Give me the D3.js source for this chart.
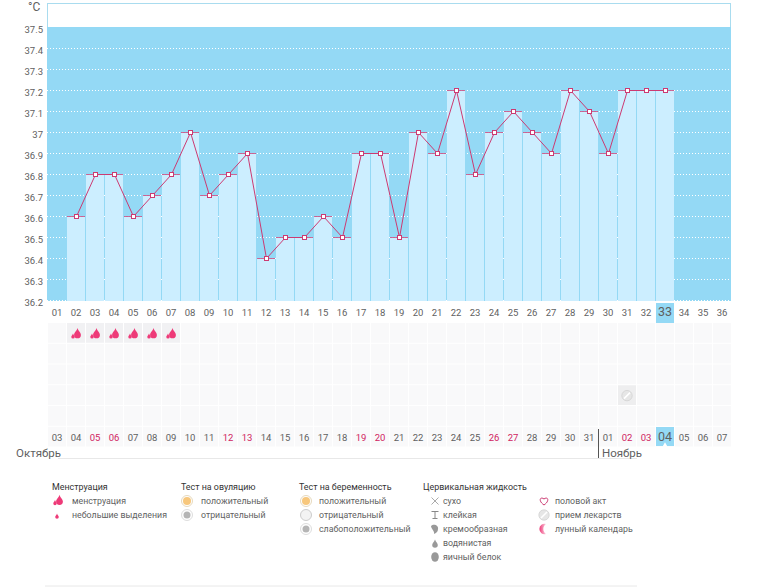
<!DOCTYPE html>
<html>
<head>
<meta charset="utf-8">
<script src="https://cdn.jsdelivr.net/npm/d3@7"></script>
<style>
html, body { margin: 0; padding: 0; background: #fff; }
svg { display: block; }
text { font-family: Roboto, sans-serif; font-size: 10px; fill: #5f5f5f; }
</style>
</head>
<body>
<svg id="chart" width="769" height="587"></svg>
<script>
(function(){
    'use strict';

    var cycleDays = ["01","02","03","04","05","06","07","08","09","10","11","12","13","14","15","16","17","18","19","20","21","22","23","24","25","26","27","28","29","30","31","32","33","34","35","36"];
    var dates = ["03","04","05","06","07","08","09","10","11","12","13","14","15","16","17","18","19","20","21","22","23","24","25","26","27","28","29","30","31","01","02","03","04","05","06","07"];
    var weekends = [2,3,9,10,16,17,23,24,30,31];
    var temps = [null,36.6,36.8,36.8,36.6,36.7,36.8,37,36.7,36.8,36.9,36.4,36.5,36.5,36.6,36.5,36.9,36.9,36.5,37,36.9,37.2,36.8,37,37.1,37,36.9,37.2,37.1,36.9,37.2,37.2,37.2,null,null,null];
    var tempTicks = [37.5,37.4,37.3,37.2,37.1,37,36.9,36.8,36.7,36.6,36.5,36.4,36.3,36.2];
    var mensesDays = ["02","03","04","05","06","07"];
    var pillDays = ["31"];
    var todayDay = "33";
    var rowIds = ["r1","r2","r3","r4","r5","r6"];

    var legendHeads = [
        {name:"Менструация", x:52},
        {name:"Тест на овуляцию", x:181},
        {name:"Тест на беременность", x:299},
        {name:"Цервикальная жидкость", x:423}
    ];
    var legendItems = [
        {name:"менструация", icon:"menses", ix:57, tx:72, row:0},
        {name:"небольшие выделения", icon:"spot", ix:57, tx:72, row:1},
        {name:"положительный", icon:"ovuPos", ix:187, tx:201, row:0},
        {name:"отрицательный", icon:"ovuNeg", ix:187, tx:201, row:1},
        {name:"положительный", icon:"pregPos", ix:306, tx:319, row:0},
        {name:"отрицательный", icon:"pregNeg", ix:306, tx:319, row:1},
        {name:"слабоположительный", icon:"pregWeak", ix:306, tx:319, row:2},
        {name:"сухо", icon:"dry", ix:435, tx:443, row:0},
        {name:"клейкая", icon:"sticky", ix:435, tx:443, row:1},
        {name:"кремообразная", icon:"cream", ix:435, tx:443, row:2},
        {name:"водянистая", icon:"water", ix:435, tx:443, row:3},
        {name:"яичный белок", icon:"egg", ix:435, tx:443, row:4},
        {name:"половой акт", icon:"heart", ix:544, tx:555, row:0},
        {name:"прием лекарств", icon:"pill", ix:544, tx:555, row:1},
        {name:"лунный календарь", icon:"moon", ix:544, tx:555, row:2}
    ];

    var blue = "#94d9f5", barColor = "#cceeff", pink = "#cc3a72", red = "#d0245f";
    var svg = d3.select("#chart");

    var moonFill = svg.append("defs").append("linearGradient").attr("id","moonFill");
    moonFill.append("stop").attr("offset","0%").attr("stop-color","#ee3a78");
    moonFill.append("stop").attr("offset","100%").attr("stop-color","#fbd3e1");

    var x = d3.scaleBand().domain(cycleDays).range([48, 732]);
    var y = d3.scaleLinear().domain([36.2, 37.5]).range([300.5, 27.5]);
    var rowY = d3.scaleBand().domain(rowIds).range([323, 447.5]);

    // y position snapped to the pixel row, so 1px strokes stay sharp
    function yPx(v){ return Math.floor(y(v))+0.5; }

    // top box and blue area
    svg.append("rect").attr("x",47.5).attr("y",3.5).attr("width",683).attr("height",24)
        .attr("fill","#fff").attr("stroke","#a9dcef");
    svg.append("rect").attr("x",47).attr("y",27).attr("width",684).attr("height",274).attr("fill",blue);

    svg.append("g").selectAll("line").data(tempTicks.slice(1)).join("line")
        .attr("x1",47).attr("x2",731)
        .attr("y1",yPx)
        .attr("y2",yPx)
        .attr("stroke","#fff").attr("stroke-dasharray","1,2");

    // bars
    var days = cycleDays.map(function(d,i){ return {day:d, t:temps[i]}; });
    var known = days.filter(function(d){ return d.t !== null; });
    svg.append("g").selectAll("rect").data(known).join("rect")
        .attr("x",function(d){ return x(d.day); })
        .attr("y",function(d){ return yPx(d.t); })
        .attr("width",x.bandwidth()-1)
        .attr("height",function(d){ return 301-yPx(d.t); })
        .attr("fill",barColor);

    // bar tops
    svg.append("g").selectAll("line").data(known).join("line")
        .attr("x1",function(d){ return x(d.day); })
        .attr("x2",function(d){ return x(d.day)+x.bandwidth()-1; })
        .attr("y1",function(d){ return yPx(d.t); })
        .attr("y2",function(d){ return yPx(d.t); })
        .attr("stroke",pink).attr("stroke-opacity",0.75);

    // temperature line
    var line = d3.line()
        .x(function(d){ return x(d.day)+x.bandwidth()/2; })
        .y(function(d){ return yPx(d.t); });
    svg.append("path").datum(known).attr("d",line)
        .attr("fill","none").attr("stroke",pink).attr("stroke-width",1);
    svg.append("g").selectAll("rect").data(known).join("rect")
        .attr("x",function(d){ return x(d.day)+x.bandwidth()/2-2; })
        .attr("y",function(d){ return yPx(d.t)-2; })
        .attr("width",4).attr("height",4)
        .attr("fill","#fff").attr("stroke",pink);

    // y axis
    var yAxis = d3.axisLeft(y).tickValues(tempTicks).tickSize(0).tickPadding(0)
        .tickFormat(function(d){ return String(d); });
    var yg = svg.append("g").attr("transform","translate(43,2)").call(yAxis);
    yg.select(".domain").remove();
    yg.selectAll("text").style("font-family",null).style("font-size","9.5px").attr("fill",null);
    svg.append("text").attr("x",28).attr("y",11).style("font-size","12px").text("°C");

    // cycle day labels
    svg.append("rect").attr("x",x(todayDay)).attr("y",303).attr("width",x.bandwidth()-1).attr("height",20).attr("fill",blue);
    svg.append("g").selectAll("text").data(cycleDays).join("text")
        .attr("x",function(d){ return x(d)+x.bandwidth()/2-0.5; })
        .attr("y",316)
        .attr("text-anchor","middle")
        .style("font-size",function(d){ return d===todayDay ? "12.5px" : "9.5px"; })
        .text(function(d){ return d; });

    // icon grid
    var grid = [];
    rowIds.forEach(function(r){ cycleDays.forEach(function(d){ grid.push({row:r, day:d}); }); });
    svg.append("g").selectAll("rect").data(grid).join("rect")
        .attr("x",function(d){ return x(d.day); })
        .attr("y",function(d){ return rowY(d.row); })
        .attr("width",x.bandwidth()-1)
        .attr("height",rowY.bandwidth()-1)
        .attr("fill",function(d){
            if (d.row==="r1" && mensesDays.indexOf(d.day)>=0) return "#f1f1f3";
            if (d.row==="r4" && pillDays.indexOf(d.day)>=0) return "#eeeeef";
            return "#f9f9fa";
        });

    function cx(d){ return x(d)+x.bandwidth()/2-0.5; }
    function rowC(r){ return rowY(r)+rowY.bandwidth()/2; }

    // drop shape, s is half width
    function drop(g,px,py,s,fill){
        g.append("path")
            .attr("d","M"+px+","+(py-s*2)+"C"+(px+s*0.3)+","+(py-s)+" "+(px+s)+","+(py-s*0.7)+" "+(px+s)+","+py
                +"A"+s+","+s+" 0 1 1 "+(px-s)+","+py
                +"C"+(px-s)+","+(py-s*0.7)+" "+(px-s*0.3)+","+(py-s)+" "+px+","+(py-s*2)+"Z")
            .attr("fill",fill);
    }
    function menses(g,px,py){
        drop(g,px+1.5,py+1.5,3.4,"#ee3a78");
        drop(g,px-3,py+3.5,1.7,"#ee3a78");
    }
    function pill(g,px,py){
        g.append("circle").attr("cx",px).attr("cy",py).attr("r",5.2).attr("fill","#e6e6e6").attr("stroke","#cfcfcf").attr("stroke-width",0.7);
        g.append("line").attr("x1",px-3).attr("y1",py+3).attr("x2",px+3).attr("y2",py-3).attr("stroke","#fff").attr("stroke-width",1.6);
    }

    var marks = svg.append("g");
    mensesDays.forEach(function(d){ menses(marks,cx(d),rowC("r1")); });
    pillDays.forEach(function(d){ pill(marks,cx(d),rowC("r4")); });

    // calendar dates
    svg.append("rect").attr("x",x(todayDay)).attr("y",427).attr("width",x.bandwidth()-1).attr("height",19).attr("fill",blue);
    svg.append("path").attr("d",d3.symbol(d3.symbolTriangle,10)()).attr("transform","translate("+cx(todayDay)+",445)").attr("fill","#fff");
    svg.append("g").selectAll("text").data(dates).join("text")
        .attr("x",function(d,i){ return cx(cycleDays[i]); })
        .attr("y",function(d,i){ return cycleDays[i]===todayDay ? 440.5 : 441; })
        .attr("text-anchor","middle")
        .style("font-size",function(d,i){ return cycleDays[i]===todayDay ? "12.5px" : "9.5px"; })
        .style("fill",function(d,i){ return weekends.indexOf(i)>=0 ? red : "#5f5f5f"; })
        .text(function(d){ return d; });

    // month labels
    svg.append("line").attr("x1",58).attr("x2",637).attr("y1",458.5).attr("y2",458.5).attr("stroke","#e8e8e8");
    svg.append("line").attr("x1",598.5).attr("x2",598.5).attr("y1",429).attr("y2",458).attr("stroke","#555");
    svg.append("text").attr("x",16).attr("y",457).style("font-size","11.5px").text("Октябрь");
    svg.append("text").attr("x",602).attr("y",457).style("font-size","11.5px").text("Ноябрь");

    // legend
    var legendY = d3.scaleLinear().domain([0,4]).range([501,557]);
    svg.append("g").selectAll("text").data(legendHeads).join("text")
        .attr("x",function(d){ return d.x; }).attr("y",490)
        .style("fill","#333").style("font-size","8.9px")
        .text(function(d){ return d.name; });
    svg.append("g").selectAll("text").data(legendItems).join("text")
        .attr("x",function(d){ return d.tx; })
        .attr("y",function(d){ return legendY(d.row)+3; })
        .style("font-size","8.8px")
        .text(function(d){ return d.name; });

    var lg = svg.append("g");
    legendItems.forEach(function(d){
        var px = d.ix, py = legendY(d.row);
        if (d.icon==="menses") menses(lg,px+1,py-1);
        if (d.icon==="spot") drop(lg,px,py+2,1.8,"#ee3a78");
        if (d.icon==="ovuPos" || d.icon==="pregPos") {
            lg.append("circle").attr("cx",px).attr("cy",py).attr("r",5.5).attr("fill","#fff").attr("stroke","#e6d9bd");
            lg.append("circle").attr("cx",px).attr("cy",py).attr("r",4).attr("fill","#f7c77c");
        }
        if (d.icon==="ovuNeg" || d.icon==="pregWeak") {
            lg.append("circle").attr("cx",px).attr("cy",py).attr("r",5.5).attr("fill","#fff").attr("stroke","#ddd");
            lg.append("circle").attr("cx",px).attr("cy",py).attr("r",3.5).attr("fill","#b5b5b5");
        }
        if (d.icon==="pregNeg") lg.append("circle").attr("cx",px).attr("cy",py).attr("r",5.5).attr("fill","#f3f3f3").attr("stroke","#ccc");
        if (d.icon==="dry") lg.append("path").attr("d","M"+(px-3.5)+","+(py-3.5)+"L"+(px+3.5)+","+(py+3.5)+"M"+(px+3.5)+","+(py-3.5)+"L"+(px-3.5)+","+(py+3.5)).attr("stroke","#aaa").attr("fill","none");
        if (d.icon==="sticky") lg.append("path").attr("d","M"+(px-3.5)+","+(py-3.5)+"H"+(px+3.5)+"M"+px+","+(py-3.5)+"V"+(py+3.5)+"M"+(px-2.5)+","+(py+3.5)+"H"+(px+2.5)).attr("stroke","#888").attr("fill","none");
        if (d.icon==="cream") lg.append("path").attr("d","M"+(px-4)+","+(py-3)+"C"+(px-1)+","+(py-6)+" "+(px+4)+","+(py-3)+" "+(px+3)+","+py+"C"+(px+3)+","+(py+3)+" "+(px+1)+","+(py+4)+" "+(px-1)+","+(py+5)+"C"+px+","+(py+2)+" "+(px-4)+","+py+" "+(px-4)+","+(py-3)+"Z").attr("fill","#999");
        if (d.icon==="water") drop(lg,px,py+2,2.8,"#999");
        if (d.icon==="egg") lg.append("ellipse").attr("cx",px).attr("cy",py).attr("rx",3.8).attr("ry",4.8).attr("fill","#999");
        if (d.icon==="heart") lg.append("path").attr("d","M"+px+","+(py+4)+"C"+(px-6)+","+py+" "+(px-4)+","+(py-5)+" "+px+","+(py-2)+"C"+(px+4)+","+(py-5)+" "+(px+6)+","+py+" "+px+","+(py+4)+"Z").attr("fill","#fff").attr("stroke",pink);
        if (d.icon==="pill") pill(lg,px,py);
        if (d.icon==="moon") lg.append("path").attr("d","M"+(px+2)+","+(py-5)+"A5.2,5.2 0 1 0 "+(px+2)+","+(py+5)+"A6,6 0 0 1 "+(px+2)+","+(py-5)+"Z").attr("fill","url(#moonFill)");
    });

    svg.append("line").attr("x1",45).attr("x2",637).attr("y1",586).attr("y2",586).attr("stroke","#e8e8e8");
})();
</script>
</body>
</html>
